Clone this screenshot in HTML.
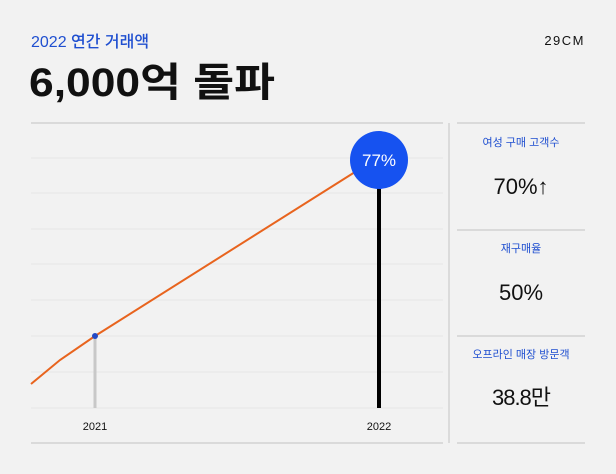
<!DOCTYPE html>
<html><head><meta charset="utf-8"><style>
body{margin:0;background:#f2f2f2;width:616px;height:474px;overflow:hidden;font-family:"Liberation Sans","Noto Sans CJK KR",sans-serif;}
</style></head><body>
<svg width="616" height="474" viewBox="0 0 616 474" xmlns="http://www.w3.org/2000/svg" style="display:block;font-family:'Liberation Sans','Noto Sans CJK KR',sans-serif">
<rect width="616" height="474" fill="#f2f2f2"/>
<text x="31" y="47" font-size="16" font-weight="500" fill="#1f4fd0">2022 연간 거래액</text>
<text x="585" y="45" font-size="13" fill="#111" text-anchor="end" letter-spacing="1.5">29CM</text>
<text x="29" y="96" font-size="40" font-weight="700" fill="#111" textLength="246" lengthAdjust="spacingAndGlyphs">6,000억 돌파</text>
<line x1="31" y1="123" x2="443" y2="123" stroke="#ccc" stroke-width="1.2"/>
<g stroke="#e6e6e6" stroke-width="1">
<line x1="31" y1="158" x2="443" y2="158"/><line x1="31" y1="193" x2="443" y2="193"/>
<line x1="31" y1="229" x2="443" y2="229"/><line x1="31" y1="264" x2="443" y2="264"/>
<line x1="31" y1="300" x2="443" y2="300"/><line x1="31" y1="336" x2="443" y2="336"/>
<line x1="31" y1="372" x2="443" y2="372"/><line x1="31" y1="408" x2="443" y2="408"/>
</g>
<line x1="31" y1="443" x2="443" y2="443" stroke="#ccc" stroke-width="1.2"/>
<line x1="449" y1="123" x2="449" y2="443" stroke="#ccc" stroke-width="1.2"/>
<line x1="457" y1="123" x2="585" y2="123" stroke="#ccc" stroke-width="1.2"/>
<line x1="457" y1="230" x2="585" y2="230" stroke="#ccc" stroke-width="1.2"/>
<line x1="457" y1="336" x2="585" y2="336" stroke="#ccc" stroke-width="1.2"/>
<line x1="457" y1="443" x2="585" y2="443" stroke="#ccc" stroke-width="1.2"/>
<line x1="95" y1="336" x2="95" y2="408" stroke="#c8c8c8" stroke-width="3"/>
<line x1="379" y1="185" x2="379" y2="408" stroke="#000" stroke-width="4"/>
<polyline points="31,384 60,360 95,336 355,172" fill="none" stroke="#e8641e" stroke-width="2"/>
<circle cx="95" cy="336" r="3" fill="#2449c4"/>
<circle cx="379" cy="160" r="29" fill="#1652f0"/>
<text x="379" y="166" font-size="17" fill="#fff" text-anchor="middle">77%</text>
<text x="95" y="430" font-size="11" fill="#111" text-anchor="middle">2021</text>
<text x="379" y="430" font-size="11" fill="#111" text-anchor="middle">2022</text>
<text x="521" y="146" font-size="11" fill="#1f4fd0" text-anchor="middle">여성 구매 고객수</text>
<text x="521" y="194" font-size="22" fill="#111" text-anchor="middle">70%↑</text>
<text x="521" y="252" font-size="11" fill="#1f4fd0" text-anchor="middle">재구매율</text>
<text x="521" y="300" font-size="22" fill="#111" text-anchor="middle">50%</text>
<text x="521" y="358" font-size="11" fill="#1f4fd0" text-anchor="middle">오프라인 매장 방문객</text>
<text x="521" y="405" font-size="22" fill="#111" text-anchor="middle" letter-spacing="-1">38.8만</text>
</svg>
</body></html>
